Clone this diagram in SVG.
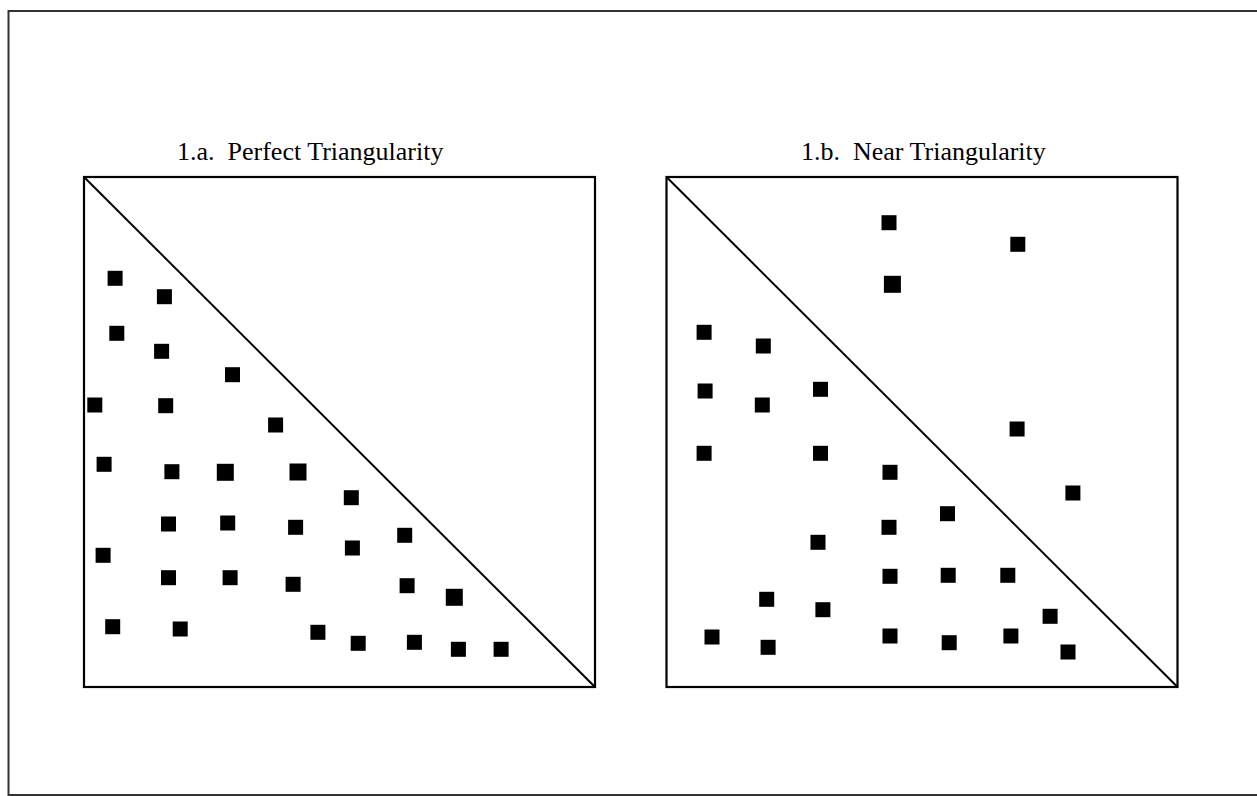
<svg xmlns="http://www.w3.org/2000/svg" width="1257" height="796" viewBox="0 0 1257 796">
<style>
.frame{fill:none;stroke:#333;stroke-width:2}
.box{fill:none;stroke:#000;stroke-width:2.2}
.diag{stroke:#000;stroke-width:2}
.pt{fill:#000}
.title{font-family:"Liberation Serif","Times New Roman",serif;font-size:26px;fill:#000}
</style>
<defs>
<rect id="sq" x="-7.5" y="-7.5" width="15" height="15" class="pt"/>
<rect id="sqb" x="-8.5" y="-8.5" width="17" height="17" class="pt"/>
</defs>
<rect width="1257" height="796" fill="#fff"/>
<rect class="frame" x="8.5" y="11" width="1262" height="784"/>

<g id="panel-a">
<text class="title" x="177" y="160" xml:space="preserve">1.a.  Perfect Triangularity</text>
<rect class="box" x="84" y="177" width="511" height="510"/>
<line class="diag" x1="84" y1="177" x2="595" y2="687"/>
<g id="points-a">
<use href="#sq" x="115.1" y="278.3"/>
<use href="#sq" x="164.4" y="296.7"/>
<use href="#sq" x="116.8" y="333.3"/>
<use href="#sq" x="161.6" y="351.3"/>
<use href="#sq" x="232.5" y="374.7"/>
<use href="#sq" x="94.8" y="405"/>
<use href="#sq" x="165.7" y="405.7"/>
<use href="#sq" x="275.6" y="425"/>
<use href="#sq" x="104.1" y="464.3"/>
<use href="#sq" x="171.9" y="471.7"/>
<use href="#sqb" x="225.3" y="472.3"/>
<use href="#sqb" x="298" y="472"/>
<use href="#sq" x="351.3" y="497.7"/>
<use href="#sq" x="168.5" y="524"/>
<use href="#sq" x="227.7" y="523"/>
<use href="#sq" x="295.6" y="527.3"/>
<use href="#sq" x="404.7" y="535.3"/>
<use href="#sq" x="352.4" y="548"/>
<use href="#sq" x="103.1" y="555.3"/>
<use href="#sq" x="168.5" y="577.7"/>
<use href="#sq" x="230.1" y="577.7"/>
<use href="#sq" x="293.1" y="584.3"/>
<use href="#sq" x="407.1" y="585.7"/>
<use href="#sqb" x="454.3" y="597.3"/>
<use href="#sq" x="112.7" y="626.7"/>
<use href="#sq" x="180.2" y="629"/>
<use href="#sq" x="317.9" y="632.3"/>
<use href="#sq" x="358.2" y="643.3"/>
<use href="#sq" x="414.4" y="642.3"/>
<use href="#sq" x="458.4" y="649.3"/>
<use href="#sq" x="501.1" y="649.3"/>
</g>
</g>

<g id="panel-b">
<text class="title" x="801" y="160" font-size="26.5" xml:space="preserve">1.b.  Near Triangularity</text>
<rect class="box" x="666.5" y="177" width="511" height="510"/>
<line class="diag" x1="666.5" y1="177" x2="1177.5" y2="687"/>
<g id="points-b">
<use href="#sq" x="889" y="222.7"/>
<use href="#sq" x="1017.8" y="244.3"/>
<use href="#sqb" x="892.4" y="284.3"/>
<use href="#sq" x="704.1" y="332.3"/>
<use href="#sq" x="763.3" y="346"/>
<use href="#sq" x="705.1" y="391"/>
<use href="#sq" x="820.5" y="389.3"/>
<use href="#sq" x="762.3" y="405"/>
<use href="#sq" x="1017.1" y="429"/>
<use href="#sq" x="704.1" y="453.3"/>
<use href="#sq" x="820.5" y="453.3"/>
<use href="#sq" x="890" y="472.3"/>
<use href="#sq" x="1072.9" y="493"/>
<use href="#sq" x="947.5" y="513.7"/>
<use href="#sq" x="889" y="527.3"/>
<use href="#sq" x="818" y="542.3"/>
<use href="#sq" x="890" y="576.3"/>
<use href="#sq" x="948.2" y="575.3"/>
<use href="#sq" x="1007.8" y="575.3"/>
<use href="#sq" x="766.7" y="599.3"/>
<use href="#sq" x="822.9" y="609.7"/>
<use href="#sq" x="1050.1" y="616.3"/>
<use href="#sq" x="712" y="637"/>
<use href="#sq" x="768.1" y="647.3"/>
<use href="#sq" x="890" y="636"/>
<use href="#sq" x="949.2" y="642.7"/>
<use href="#sq" x="1010.9" y="636"/>
<use href="#sq" x="1068" y="652"/>
</g>
</g>
</svg>
